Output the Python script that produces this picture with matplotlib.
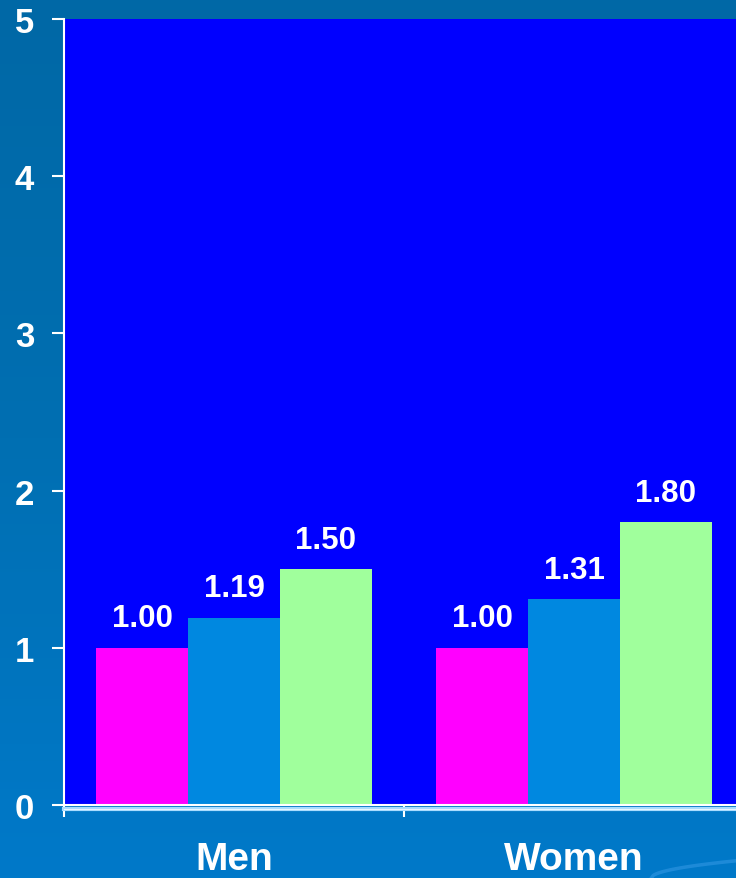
import numpy as np
import matplotlib as mpl
from matplotlib import pyplot as plt
from matplotlib.colors import LinearSegmentedColormap

# relative risk by sex, three groups per sex
groups = ['Men', 'Women']
series = [
	[1.00, 1.00],
	[1.19, 1.31],
	[1.50, 1.80],
]
labels = [['1.00', '1.00'], ['1.19', '1.31'], ['1.50', '1.80']]
colors = ['#ff00ff', '#0088e0', '#a0ff9c']
yticks = [0, 1, 2, 3, 4, 5]

mpl.rcParams['font.family'] = ['Liberation Sans', 'DejaVu Sans']
mpl.rcParams['font.weight'] = 'bold'

fig = plt.figure(figsize=(7.36, 8.79), dpi=100)

# slide style background: vertical blue gradient
bg = fig.add_axes([0, 0, 1, 1], zorder=-10)
grad = LinearSegmentedColormap.from_list('slide', ['#0068a6', '#006fb2', '#0079c9'])
bg.imshow(np.linspace(0, 1, 256).reshape(-1, 1), cmap=grad, aspect='auto',
	extent=[0, 1, 0, 1], origin='upper')
# faint swoosh in the lower right corner
t = np.linspace(0, 1, 50)
bg.plot(0.885 + 0.12 * t, 0.0 + 0.02 * np.sqrt(t), color='#2a93e0', lw=2.5, alpha=0.7)
bg.set_xlim(0, 1)
bg.set_ylim(0, 1)
bg.axis('off')

ax = fig.add_axes([64 / 736, 73 / 879, 680 / 736, 786 / 879])
ax.set_facecolor('#0000ff')

width = 0.27
x = np.arange(len(groups))
for i, vals in enumerate(series):
	pos = x + (i - 1) * width
	ax.bar(pos, vals, width, color=colors[i], zorder=2)
	for p, v, s in zip(pos, vals, labels[i]):
		ax.annotate(s, (p, v), xytext=(0, 15.5), textcoords='offset points',
			ha='center', va='baseline', color='white', fontsize=22.5, fontweight='bold')

ax.set_xlim(-0.5, 1.5)
ax.set_ylim(0, 5)
ax.set_yticks(yticks)
ax.set_yticklabels([str(v) for v in yticks])
ax.tick_params(axis='y', colors='white', length=8.5, width=1.5, pad=13, labelsize=25)
ax.set_xticks(x)
ax.set_xticklabels(groups)
ax.tick_params(axis='x', which='major', length=0, pad=26, labelsize=28, labelcolor='white')
ax.set_xticks([-0.5, 0.5], minor=True)
ax.tick_params(axis='x', which='minor', colors='white', length=8.5, width=1.5)

for side in ['top', 'right']:
	ax.spines[side].set_visible(False)
for side in ['left', 'bottom']:
	ax.spines[side].set_color('white')
	ax.spines[side].set_linewidth(1.5)

# light double rule under the category axis
ax.axhline(-0.025, color='#a8dcff', lw=3, clip_on=False, zorder=3)
ax.axhline(-0.025, color='#e8f6ff', lw=0.8, clip_on=False, zorder=4)

fig.savefig('out.png', dpi=100)
